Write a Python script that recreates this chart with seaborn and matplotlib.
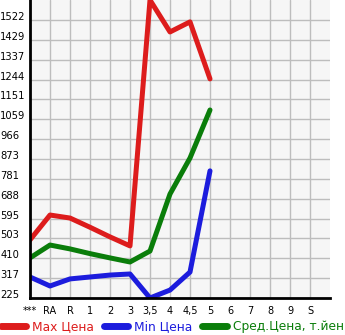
import matplotlib
matplotlib.use("Agg")
import matplotlib.pyplot as plt
import seaborn as sns
import pandas as pd
import numpy as np

categories = ["***", "RA", "R", "1", "2", "3", "3,5", "4", "4,5", "5", "6", "7", "8", "9", "S"]
max_price = [496, 612, 598, 555, 510, 468, 1615, 1466, 1513, 1247]
min_price = [323, 281, 314, 323, 332, 337, 225, 262, 346, 818]
avg_price = [412, 472, 454, 432, 412, 393, 444, 710, 878, 1102]
y_ticks = [225, 317, 410, 503, 595, 688, 781, 873, 966, 1059, 1151, 1244, 1337, 1429, 1522]
series_names = ["Max Цена", "Min Цена", "Сред.Цена, т.йен"]
colors = ["#dd1c1c", "#1c1cdd", "#0a7d0a"]

rows = []
for name, vals in zip(series_names, [max_price, min_price, avg_price]):
    for i, v in enumerate(vals):
        rows.append({"pos": i, "value": v, "series": name})
df = pd.DataFrame(rows)

sns.set_style("white")
plt.rcParams['font.family'] = ['DejaVu Sans']

fig = plt.figure(figsize=(3.45, 3.35), dpi=100)
ax = fig.add_axes([30/345, 37/335, 300/345, 298/335])
ax.set_facecolor("#f6f6f6")

sns.lineplot(data=df, x="pos", y="value", hue="series", palette=colors,
             hue_order=series_names, linewidth=3.6, ax=ax, legend=False,
             solid_capstyle="round", solid_joinstyle="round")

ax.set_xlim(0, 15)
ax.set_ylim(225, 1615)
ax.set_xticks(range(len(categories)))
ax.set_xticklabels(categories, fontsize=7)
ax.set_yticks(y_ticks)
ax.set_yticklabels([str(t) for t in y_ticks], fontsize=7.2, ha="left")
ax.tick_params(axis="y", pad=18.5, length=3, direction="out", colors="black")
ax.tick_params(axis="x", pad=3, length=3, direction="out", colors="black")
for lab in ax.get_yticklabels():
    lab.set_va("baseline")
ax.set_xlabel("")
ax.set_ylabel("")
ax.grid(True, color="#bdbdbd", linewidth=1)
ax.set_axisbelow(True)
for s in ["top", "right"]:
    ax.spines[s].set_visible(False)
for s in ["left", "bottom"]:
    ax.spines[s].set_color("black")
    ax.spines[s].set_linewidth(2)

from matplotlib.lines import Line2D
handles = [Line2D([0], [0], color=c, linewidth=5, solid_capstyle="round") for c in colors]
leg = fig.legend(handles, series_names, loc="lower center", bbox_to_anchor=(0.5, -0.01),
                 ncol=3, frameon=False, fontsize=8.8, handlelength=2.0,
                 columnspacing=0.8, handletextpad=0.5, borderaxespad=0)
for t, c in zip(leg.get_texts(), colors):
    t.set_color(c)

fig.savefig("out.png", dpi=100)
